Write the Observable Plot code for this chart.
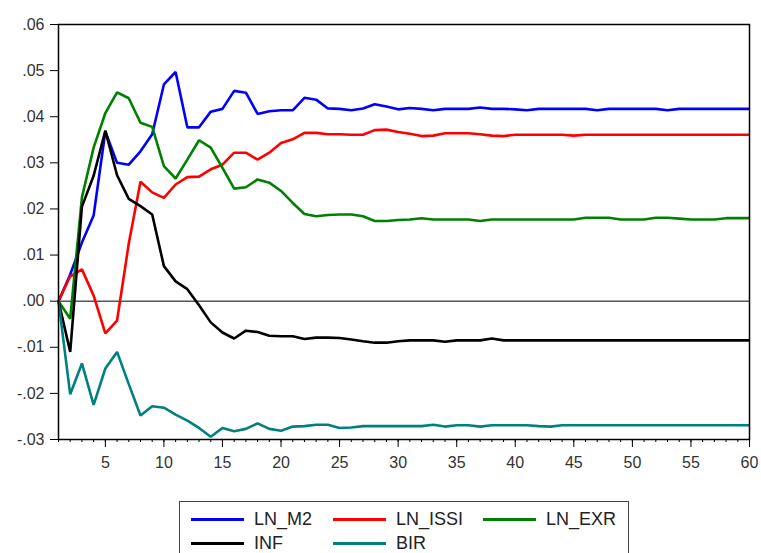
<!DOCTYPE html>
<html>
<head>
<meta charset="utf-8">
<script src="https://cdn.jsdelivr.net/npm/d3@7"></script>
<script src="https://cdn.jsdelivr.net/npm/@observablehq/plot@0.6"></script>
<style>
  html, body { margin: 0; padding: 0; background: #fff; }
  #wrap { position: relative; width: 761px; height: 553px; overflow: hidden; }
  #legend { position: absolute; left: 179px; top: 501px; width: 450px; height: 70px;
            border: 1px solid #444; box-sizing: border-box; background: #fff;
            font-family: "Liberation Sans", Arial, sans-serif; font-size: 18px; color: #222; }
  .item { position: absolute; height: 24px; display: flex; align-items: center; }
  .sw { width: 53px; height: 0; border-top: 3px solid; margin-right: 10px; }
</style>
</head>
<body>
<div id="wrap"><div id="chart"></div><div id="legend"></div></div>
<script>
const seriesNames = ["LN_M2", "LN_ISSI", "LN_EXR", "INF", "BIR"];
const seriesColors = ["#0000ff", "#ff0000", "#008000", "#000000", "#008080"];

const lnM2 = [0, 0.0058, 0.0127, 0.0186, 0.0368, 0.0300, 0.0296, 0.0325, 0.0362, 0.0470,
  0.0497, 0.0377, 0.0377, 0.0411, 0.0417, 0.0456, 0.0452, 0.0406, 0.0412, 0.0414,
  0.0414, 0.0441, 0.0437, 0.0418, 0.0417, 0.0414, 0.0418, 0.0427, 0.0422, 0.0416,
  0.0419, 0.0417, 0.0414, 0.0417, 0.0417, 0.0417, 0.0420, 0.0417, 0.0417, 0.0416,
  0.0414, 0.0417, 0.0417, 0.0417, 0.0417, 0.0417, 0.0414, 0.0417, 0.0417, 0.0417,
  0.0417, 0.0417, 0.0414, 0.0417, 0.0417, 0.0417, 0.0417, 0.0417, 0.0417, 0.0417];
const lnIssi = [0, 0.0054, 0.0069, 0.0012, -0.0070, -0.0042, 0.0125, 0.0259, 0.0236, 0.0224,
  0.0253, 0.0269, 0.0270, 0.0286, 0.0296, 0.0322, 0.0322, 0.0307, 0.0322, 0.0343,
  0.0351, 0.0365, 0.0365, 0.0362, 0.0362, 0.0361, 0.0361, 0.0371, 0.0372, 0.0367,
  0.0363, 0.0358, 0.0359, 0.0364, 0.0364, 0.0364, 0.0362, 0.0359, 0.0358, 0.0361,
  0.0361, 0.0361, 0.0361, 0.0361, 0.0359, 0.0361, 0.0361, 0.0361, 0.0361, 0.0361,
  0.0361, 0.0361, 0.0361, 0.0361, 0.0361, 0.0361, 0.0361, 0.0361, 0.0361, 0.0361];
const lnExr = [0, -0.0038, 0.0225, 0.0333, 0.0408, 0.0453, 0.0440, 0.0387, 0.0378, 0.0293,
  0.0266, 0.0307, 0.0349, 0.0333, 0.0289, 0.0244, 0.0247, 0.0264, 0.0257, 0.0239,
  0.0213, 0.0189, 0.0184, 0.0187, 0.0188, 0.0188, 0.0184, 0.0174, 0.0174, 0.0176,
  0.0177, 0.0180, 0.0177, 0.0177, 0.0177, 0.0177, 0.0174, 0.0177, 0.0177, 0.0177,
  0.0177, 0.0177, 0.0177, 0.0177, 0.0177, 0.0181, 0.0181, 0.0181, 0.0177, 0.0177,
  0.0177, 0.0181, 0.0181, 0.0179, 0.0177, 0.0177, 0.0177, 0.0180, 0.0180, 0.0180];
const inf = [0, -0.0110, 0.0205, 0.0272, 0.0370, 0.0273, 0.0222, 0.0206, 0.0188, 0.0076,
  0.0043, 0.0026, -0.0009, -0.0046, -0.0068, -0.0081, -0.0064, -0.0067, -0.0075, -0.0076,
  -0.0076, -0.0082, -0.0079, -0.0079, -0.0080, -0.0083, -0.0087, -0.0090, -0.0090, -0.0087,
  -0.0085, -0.0085, -0.0085, -0.0088, -0.0085, -0.0085, -0.0085, -0.0081, -0.0085, -0.0085,
  -0.0085, -0.0085, -0.0085, -0.0085, -0.0085, -0.0085, -0.0085, -0.0085, -0.0085, -0.0085,
  -0.0085, -0.0085, -0.0085, -0.0085, -0.0085, -0.0085, -0.0085, -0.0085, -0.0085, -0.0085];
const bir = [0, -0.0202, -0.0135, -0.0225, -0.0146, -0.0110, -0.0180, -0.0248, -0.0228, -0.0231,
  -0.0246, -0.0259, -0.0275, -0.0294, -0.0275, -0.0282, -0.0277, -0.0265, -0.0277, -0.0281,
  -0.0272, -0.0271, -0.0268, -0.0268, -0.0275, -0.0274, -0.0271, -0.0271, -0.0271, -0.0271,
  -0.0271, -0.0271, -0.0268, -0.0272, -0.0269, -0.0269, -0.0272, -0.0269, -0.0269, -0.0269,
  -0.0269, -0.0271, -0.0272, -0.0269, -0.0269, -0.0269, -0.0269, -0.0269, -0.0269, -0.0269,
  -0.0269, -0.0269, -0.0269, -0.0269, -0.0269, -0.0269, -0.0269, -0.0269, -0.0269, -0.0269];

const yTicks = [-0.03, -0.02, -0.01, 0, 0.01, 0.02, 0.03, 0.04, 0.05, 0.06];
const xMajorTicks = [5, 10, 15, 20, 25, 30, 35, 40, 45, 50, 55, 60];

const allSeries = [lnM2, lnIssi, lnExr, inf, bir];
const periods = lnM2.map((_, i) => i + 1);

const fmtY = v => (v < -1e-9 ? "-" : "") + d3.format(".2f")(Math.abs(v)).replace(/^0/, "");

const lineMarks = allSeries.map((vals, k) =>
  Plot.line(vals.map((v, i) => ({t: periods[i], v})), {
    x: "t", y: "v", stroke: seriesColors[k], strokeWidth: 2.6,
    strokeLinejoin: "miter", strokeLinecap: "butt"
  })
);

const chart = Plot.plot({
  width: 761,
  height: 480,
  marginTop: 24,
  marginLeft: 58,
  marginRight: 12,
  marginBottom: 41,
  x: {domain: [1, 60]},
  y: {domain: [-0.03, 0.06]},
  style: {fontFamily: "'Liberation Sans', Arial, sans-serif", fontSize: "16px", color: "#333", background: "#fff"},
  marks: [
    Plot.ruleY([0], {stroke: "#000", strokeWidth: 1}),
    ...lineMarks,
    Plot.axisY({ticks: yTicks, tickSize: 8, tickPadding: 6, tickFormat: fmtY, label: null, stroke: "#000"}),
    Plot.axisX({ticks: periods, tickSize: 3, tickFormat: () => "", label: null, stroke: "#000"}),
    Plot.axisX({ticks: xMajorTicks, tickSize: 8, tickPadding: 9, tickFormat: d => String(d), label: null, stroke: "#000"}),
    Plot.frame({stroke: "#000", strokeWidth: 1.5})
  ]
});
document.getElementById("chart").appendChild(chart);

// Legend
const legend = document.getElementById("legend");
const pos = [[11, 5], [153, 5], [303, 5], [11, 29], [153, 29]];
seriesNames.forEach((name, k) => {
  const it = document.createElement("div");
  it.className = "item";
  it.style.left = pos[k][0] + "px";
  it.style.top = pos[k][1] + "px";
  const sw = document.createElement("div");
  sw.className = "sw";
  sw.style.borderTopColor = seriesColors[k];
  const tx = document.createElement("span");
  tx.textContent = name;
  it.appendChild(sw); it.appendChild(tx);
  legend.appendChild(it);
});
</script>
</body>
</html>
